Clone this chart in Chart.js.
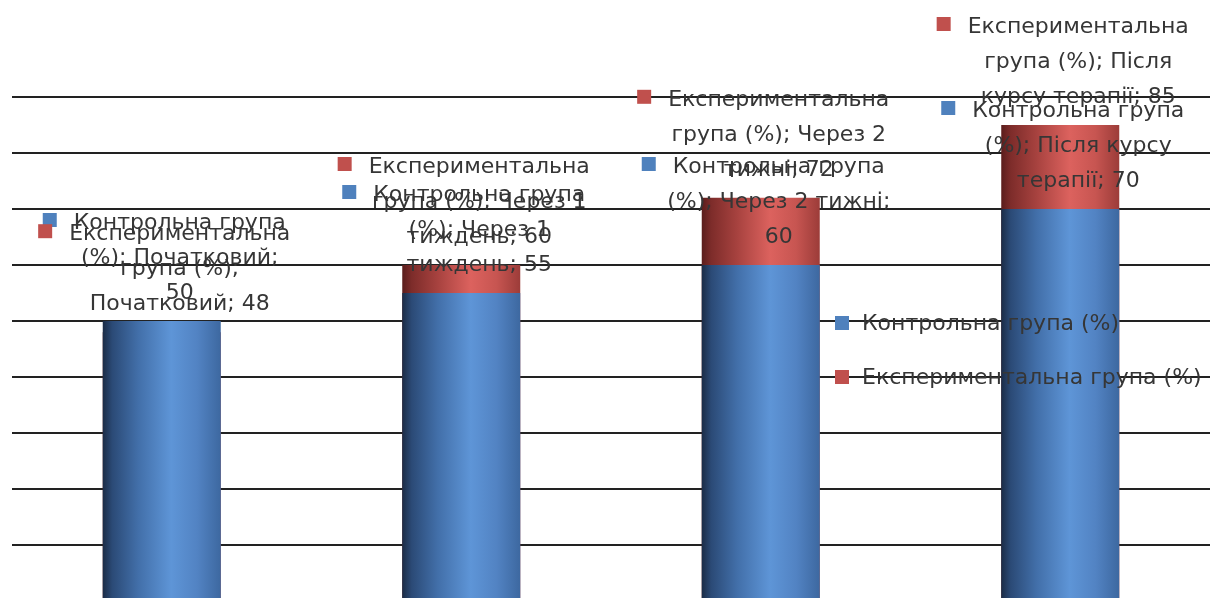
<!DOCTYPE html>
<html lang="uk">
<head>
<meta charset="utf-8">
<title>Контрольна та експериментальна група</title>
<script src="https://cdn.jsdelivr.net/npm/chart.js@4/dist/chart.umd.min.js"></script>
<style>
    html, body { margin: 0; padding: 0; background: #fff; overflow: hidden; }
    #wrap { position: relative; width: 1217px; height: 602px; }
</style>
</head>
<body>
<div id="wrap"><canvas id="chart"></canvas></div>
<script>
const categories = ['Початковий', 'Через 1 тиждень', 'Через 2 тижні', 'Після курсу терапії'];
const controlValues = [50, 55, 60, 70];
const experimentalValues = [48, 60, 72, 85];
const seriesNames = ['Контрольна група (%)', 'Експериментальна група (%)'];
const yMax = 90;
const yStep = 10;

const BAR_PCT = 0.394;
const FONT = '22px "DejaVu Sans"';
const TEXT_COLOR = '#363636';
const LABEL_WRAP = 227;

const blueStops = [[0, '#1b2c46'], [0.08, '#2b4a76'], [0.3, '#426fa9'], [0.58, '#5e95d7'], [0.8, '#5283c3'], [1, '#3d68a0']];
const redStops = [[0, '#5a1d1c'], [0.08, '#7d2c2a'], [0.3, '#a7423f'], [0.58, '#dc625e'], [0.8, '#c75551'], [1, '#9c3c39']];

// horizontal gradient across each bar, gives the cylinder look
function barGradient(stops) {
    return function(ctx) {
        const chart = ctx.chart;
        const xs = chart.scales.x;
        if (!xs || ctx.dataIndex === undefined) {
            return stops[3][1];
        }
        const cx = xs.getPixelForValue(ctx.dataIndex);
        const w = (xs.width / categories.length) * BAR_PCT;
        if (!isFinite(cx) || !isFinite(w) || w <= 0) {
            return stops[3][1];
        }
        const g = chart.ctx.createLinearGradient(cx - w / 2, 0, cx + w / 2, 0);
        stops.forEach(([o, c]) => g.addColorStop(o, c));
        return g;
    };
}

function wrapText(ctx, text, maxWidth) {
    const words = text.split(' ');
    const lines = [];
    let line = '';
    words.forEach(word => {
        const test = line ? line + ' ' + word : word;
        if (line && ctx.measureText(test).width > maxWidth) {
            lines.push(line);
            line = word;
        } else {
            line = test;
        }
    });
    if (line) lines.push(line);
    return lines;
}

const markerColors = ['#4f81bd', '#c0504d'];

const labelPlugin = {
    id: 'barLabels',
    afterDatasetsDraw(chart) {
        const ctx = chart.ctx;
        ctx.save();
        ctx.font = FONT;
        ctx.textAlign = 'center';
        ctx.textBaseline = 'middle';
        chart.data.datasets.forEach((ds, di) => {
            const meta = chart.getDatasetMeta(di);
            meta.data.forEach((bar, i) => {
                const text = ds.label + '; ' + categories[i] + '; ' + ds.data[i];
                const lines = wrapText(ctx, text, LABEL_WRAP);
                const cx = bar.x + 18;
                const lastY = bar.y - 28;
                const firstY = lastY - (lines.length - 1) * 35;
                ctx.fillStyle = TEXT_COLOR;
                lines.forEach((ln, k) => {
                    ctx.fillText(ln, cx, firstY + k * 35);
                });
                const left = cx - ctx.measureText(lines[0]).width / 2;
                ctx.fillStyle = markerColors[di];
                ctx.fillRect(left - 31, firstY - 10, 14, 14);
            });
        });
        ctx.restore();
    }
};

const legendPlugin = {
    id: 'sideLegend',
    afterDatasetsDraw(chart) {
        const ctx = chart.ctx;
        const area = chart.chartArea;
        const x = area.right - 375;
        ctx.save();
        ctx.font = FONT;
        ctx.textAlign = 'left';
        ctx.textBaseline = 'middle';
        seriesNames.forEach((name, i) => {
            const y = area.top + 226 + i * 54;
            ctx.fillStyle = markerColors[i];
            ctx.fillRect(x, y - 7, 14, 14);
            ctx.fillStyle = TEXT_COLOR;
            ctx.fillText(name, x + 27, y + 1);
        });
        ctx.restore();
    }
};

new Chart(document.getElementById('chart'), {
    type: 'bar',
    data: {
        labels: categories,
        datasets: [
            {
                label: seriesNames[0],
                data: controlValues,
                backgroundColor: barGradient(blueStops),
                borderWidth: 0
            },
            {
                label: seriesNames[1],
                data: experimentalValues,
                backgroundColor: barGradient(redStops),
                borderWidth: 0
            }
        ]
    },
    options: {
        responsive: true,
        maintainAspectRatio: false,
        animation: false,
        events: [],
        layout: { padding: { top: 97, left: 12, right: 7, bottom: 1 } },
        datasets: { bar: { categoryPercentage: 1, barPercentage: BAR_PCT } },
        plugins: {
            legend: { display: false },
            tooltip: { enabled: false }
        },
        scales: {
            x: {
                stacked: true,
                display: false
            },
            y: {
                stacked: false,
                min: 0,
                max: yMax,
                ticks: { display: false, stepSize: yStep },
                border: { display: false },
                grid: { color: '#222222', lineWidth: 2, drawTicks: false, tickLength: 0 }
            }
        }
    },
    plugins: [labelPlugin, legendPlugin]
});
</script>
</body>
</html>
